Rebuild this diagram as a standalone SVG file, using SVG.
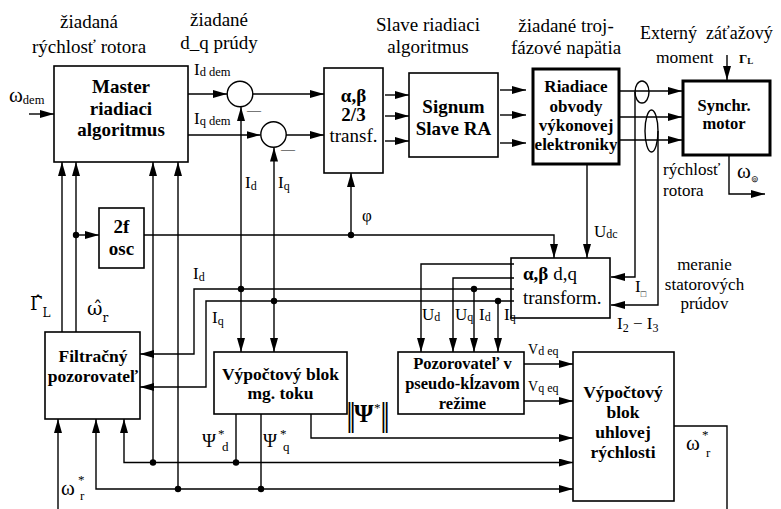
<svg xmlns="http://www.w3.org/2000/svg" width="781" height="509" viewBox="0 0 781 509">
<defs>
<marker id="ah" viewBox="0 0 14 8" refX="14" refY="4" markerWidth="14" markerHeight="8" markerUnits="userSpaceOnUse" orient="auto"><path d="M0,0 L14,4 L0,8 z" fill="#000"/></marker>
<style>
text{font-family:"Liberation Serif","Times New Roman",serif;fill:#000}
.box{fill:#fff;stroke:#000;stroke-width:1.6}
.thick{fill:#fff;stroke:#000;stroke-width:3}
.ell{fill:none;stroke:#000;stroke-width:1.4}
.ln path{fill:none;stroke:#000;stroke-width:1.4}
.a{marker-end:url(#ah)}
.dot{fill:#000}
.lbl{font-size:19px}
.b{font-weight:bold}
.m{text-anchor:middle}
.s{font-size:17px}
.sub{font-size:12px}
.w{font-size:21px}
.dj{font-family:"DejaVu Serif","Liberation Serif",serif}
</style>
</defs>
<rect x="0" y="0" width="781" height="509" fill="#fff"/>

<g id="top-labels" class="lbl">
<text x="89" y="28" class="m">žiadaná</text>
<text x="89" y="53" class="m">rýchlosť rotora</text>
<text x="219" y="26" class="m">žiadané</text>
<text x="219" y="49" class="m">d_q prúdy</text>
<text x="428" y="31" class="m">Slave riadiaci</text>
<text x="428" y="53" class="m">algoritmus</text>
<text x="566" y="32" class="m">žiadané troj-</text>
<text x="566" y="54" class="m">fázové napätia</text>
<text x="640" y="39" style="font-size:18px" xml:space="preserve">Externý  záťažový</text>
<text x="656" y="63" style="font-size:17.5px">moment</text>
<text x="739" y="63" class="b" style="font-size:13px">Γ<tspan style="font-size:9px" dy="1">L</tspan></text>
</g>

<g id="master">
<rect class="box" x="54" y="66" width="134" height="96"/>
<text class="b m" style="font-size:19px" x="121" y="93">Master</text>
<text class="b m" style="font-size:19px" x="121" y="114.5">riadiaci</text>
<text class="b m" style="font-size:19px" x="121" y="136">algoritmus</text>
</g>

<g id="sum1">
<circle class="ell" cx="240" cy="94" r="12.8"/>
<text x="247" y="115" style="font-size:14px">—</text>
</g>
<g id="sum2">
<circle class="ell" cx="273.5" cy="134.5" r="12.7"/>
<text x="281" y="154" style="font-size:14px">—</text>
</g>

<g id="abtransf">
<rect class="box" x="324" y="68" width="59" height="105"/>
<text class="b m" style="font-size:19px" x="353.5" y="102">α,β</text>
<text class="b m" style="font-size:19px" x="353.5" y="121">2/3</text>
<text class="m" style="font-size:19px" x="353.5" y="142">transf.</text>
</g>

<g id="signum">
<rect class="box" x="409" y="73" width="89" height="84"/>
<text class="b m" style="font-size:19px" x="453.5" y="113">Signum</text>
<text class="b m" style="font-size:19px" x="453.5" y="135">Slave RA</text>
</g>

<g id="riadiace">
<rect class="thick" x="533" y="69" width="86" height="95"/>
<text class="b m" style="font-size:17px" x="576" y="92">Riadiace</text>
<text class="b m" style="font-size:17px" x="576" y="112">obvody</text>
<text class="b m" style="font-size:17px" x="576" y="131">výkonovej</text>
<text class="b m" style="font-size:17px" x="576" y="150">elektroniky</text>
</g>

<g id="motor">
<rect class="thick" x="683" y="81" width="87" height="74"/>
<text class="b m" style="font-size:16.5px" x="724" y="111">Synchr.</text>
<text class="b m" style="font-size:16.5px" x="724" y="129">motor</text>
</g>

<g id="osc">
<rect class="box" x="99" y="208" width="45" height="60"/>
<text class="b m" style="font-size:19px" x="121.5" y="233">2f</text>
<text class="b m" style="font-size:19px" x="121.5" y="255">osc</text>
</g>

<g id="filtracny">
<rect class="box" x="45" y="332" width="95" height="87"/>
<text class="b m" style="font-size:17.5px" x="93" y="362">Filtračný</text>
<text class="b m" style="font-size:17.5px" x="93" y="382">pozorovateľ</text>
</g>

<g id="dqtransform">
<rect class="box" x="511" y="258" width="99" height="60"/>
<text style="font-size:19px" x="523" y="280"><tspan class="b">α,β</tspan> d,q</text>
<text style="font-size:19px" x="523" y="304">transform.</text>
</g>

<g id="mgtok">
<rect class="box" x="214" y="352" width="133" height="62"/>
<text class="b m" style="font-size:17.5px" x="280.5" y="380">Výpočtový blok</text>
<text class="b m" style="font-size:17.5px" x="280.5" y="398.5">mg. toku</text>
</g>

<g id="pozorovatel">
<rect class="box" x="398" y="352" width="126" height="62"/>
<text class="b m" style="font-size:16.5px" x="462.5" y="369">Pozorovateľ v</text>
<text class="b m" style="font-size:16.5px" x="462.5" y="389">pseudo-kĺzavom</text>
<text class="b m" style="font-size:16.5px" x="462.5" y="409">režime</text>
</g>

<g id="uhlova">
<rect class="box" x="573" y="352" width="101" height="149"/>
<text class="b m" style="font-size:17.5px" x="623" y="398">Výpočtový</text>
<text class="b m" style="font-size:17.5px" x="623" y="418">blok</text>
<text class="b m" style="font-size:17.5px" x="623" y="438">uhlovej</text>
<text class="b m" style="font-size:17.5px" x="623" y="458">rýchlosti</text>
</g>

<g id="sensors">
<ellipse class="ell" cx="642" cy="92" rx="7" ry="11"/>
<ellipse class="ell" cx="651.5" cy="131" rx="6.5" ry="21"/>
</g>

<g id="connectors" class="ln">
<path class="a" d="M29,114 H54"/>
<path class="a" d="M188,94 H227"/>
<path class="a" d="M188,135 H260.5"/>
<path class="a" d="M253,94 H324"/>
<path class="a" d="M286,135 H324"/>
<path class="a" d="M241,289 V107"/>
<path class="a" d="M241,289 V352"/>
<path class="a" d="M274,301 V147.5"/>
<path class="a" d="M274,301 V352"/>
<path class="a" d="M514,289 H194 V354 H140"/>
<path class="a" d="M514,301 H206 V387 H140"/>
<path class="a" d="M514,264 H421 V352"/>
<path class="a" d="M514,278 H453 V352"/>
<path class="a" d="M474,289 V352"/>
<path class="a" d="M498,301 V352"/>
<path class="a" d="M144,235 H554 V258"/>
<path class="a" d="M351,235 V173"/>
<path class="a" d="M76,332 V162"/>
<path class="a" d="M62,332 V162"/>
<path class="a" d="M76,235 H99"/>
<path class="a" d="M153,462.5 V162"/>
<path class="a" d="M178,489 V162"/>
<path d="M236,414 V462.5"/>
<path class="a" d="M236,462.5 H124 V419"/>
<path class="a" d="M236,462.5 H573"/>
<path d="M261,414 V489"/>
<path class="a" d="M261,489 H96 V419"/>
<path class="a" d="M261,489 H573"/>
<path class="a" d="M311,414 V438 H573"/>
<path class="a" d="M58,509 V419"/>
<path class="a" d="M524,364 H573"/>
<path class="a" d="M524,401 H573"/>
<path d="M674,426 H727 V509"/>
<path class="a" d="M385,95 H409"/>
<path class="a" d="M385,116 H409"/>
<path class="a" d="M385,141 H409"/>
<path class="a" d="M500,90 H526"/>
<path class="a" d="M500,115 H526"/>
<path class="a" d="M500,143 H526"/>
<path class="a" d="M620,91 H682"/>
<path class="a" d="M620,117 H682"/>
<path class="a" d="M620,140 H682"/>
<path class="a" d="M635,92 V277 H611"/>
<path class="a" d="M658,131 V305 H611"/>
<path class="a" d="M587,165 V258"/>
<path class="a" d="M727,55 V80"/>
<path class="a" d="M729,156 V194 H765"/>
<circle class="dot" cx="241" cy="289" r="3.2"/>
<circle class="dot" cx="274" cy="301" r="3.2"/>
<circle class="dot" cx="474" cy="289" r="3.2"/>
<circle class="dot" cx="498" cy="301" r="3.2"/>
<circle class="dot" cx="351" cy="235" r="3.2"/>
<circle class="dot" cx="76" cy="235" r="3.2"/>
<circle class="dot" cx="153" cy="462.5" r="3.2"/>
<circle class="dot" cx="178" cy="489" r="3.2"/>
<circle class="dot" cx="236" cy="462.5" r="3.2"/>
<circle class="dot" cx="261" cy="489" r="3.2"/>
</g>

<g id="signal-labels">
<text x="9" y="102" class="w">ω<tspan style="font-size:12.5px" dy="2">dem</tspan></text>
<text x="194" y="75" class="s">I<tspan style="font-size:12.5px" dy="1">d dem</tspan></text>
<text x="194" y="124" class="s">I<tspan style="font-size:12.5px" dy="1">q dem</tspan></text>
<text x="245" y="188" class="s">I<tspan class="sub" dy="2">d</tspan></text>
<text x="278" y="188" class="s">I<tspan class="sub" dy="2">q</tspan></text>
<text x="362" y="221" class="s">φ</text>
<text x="193" y="279" class="s">I<tspan class="sub" dy="2">d</tspan></text>
<text x="212" y="323" class="s">I<tspan class="sub" dy="2">q</tspan></text>
<text x="422" y="320" class="s">U<tspan class="sub" dy="1">d</tspan></text>
<text x="455" y="320" class="s">U<tspan class="sub" dy="1">q</tspan></text>
<text x="479" y="320" class="s">I<tspan class="sub" dy="1">d</tspan></text>
<text x="504" y="320" class="s">I<tspan class="sub" dy="1">q</tspan></text>
<text x="594" y="237" class="s">U<tspan class="sub" dy="1">dc</tspan></text>
<text x="635" y="292" class="s">I<tspan style="font-size:9px" dy="5">□</tspan></text>
<text x="617" y="329" class="s">I<tspan class="sub" dy="3">2</tspan><tspan dy="-3"> − I</tspan><tspan class="sub" dy="3">3</tspan></text>
<text x="704.5" y="270" class="s m">meranie</text>
<text x="704.5" y="290" class="s m">statorových</text>
<text x="704.5" y="308.5" class="s m">prúdov</text>
<text x="663" y="175" class="s">rýchlosť</text>
<text x="663" y="196" class="s">rotora</text>
<text x="737" y="178" class="w">ω<tspan style="font-size:9px" dy="4">⊚</tspan></text>
<text x="30" y="310" class="dj" style="font-size:18px">Γ̂<tspan style="font-size:12px" dy="7">L</tspan></text>
<text x="87" y="315" class="dj" style="font-size:19px">ω̂<tspan style="font-size:12px" dy="7">r</tspan></text>
<text x="61" y="495" class="w">ω</text>
<text x="78" y="484" style="font-size:13px">*</text>
<text x="80" y="500" style="font-size:13px">r</text>
<text x="686" y="450" class="w">ω</text>
<text x="702" y="439" style="font-size:13px">*</text>
<text x="706" y="457" style="font-size:13px">r</text>
<text x="202" y="447" style="font-size:19px">Ψ</text>
<text x="218" y="438" style="font-size:13px">*</text>
<text x="222" y="451" style="font-size:13px">d</text>
<text x="263" y="447" style="font-size:19px">Ψ</text>
<text x="280" y="438" style="font-size:13px">*</text>
<text x="283" y="451" style="font-size:13px">q</text>
<text x="346" y="426" style="font-size:34px;letter-spacing:-3.5px">||</text>
<text x="354" y="422" class="b" style="font-size:25px">Ψ</text>
<text x="374" y="412" style="font-size:13px">*</text>
<text x="380" y="426" style="font-size:34px;letter-spacing:-3.5px">||</text>
<text x="528" y="354" style="font-size:14px">V<tspan class="sub" dy="1">d eq</tspan></text>
<text x="528" y="391" style="font-size:14px">V<tspan class="sub" dy="1">q eq</tspan></text>
</g>
</svg>
